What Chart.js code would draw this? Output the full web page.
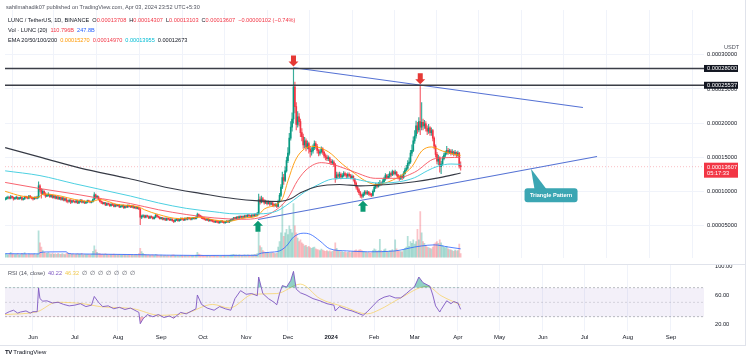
<!DOCTYPE html>
<html>
<head>
<meta charset="utf-8">
<script src="https://cdn.jsdelivr.net/npm/chart.js@4.4.1/dist/chart.umd.min.js"></script>
<style>
body { margin: 0; background: #fff; width: 750px; height: 361px; overflow: hidden; position: relative; font-family: "Liberation Sans", Arial, sans-serif; }
canvas { position: absolute; left: 0; }
#main { top: 0; }
#rsi { top: 255px; }
.t { position: absolute; font-size: 5.6px; line-height: 8px; color: #131722; white-space: nowrap; z-index: 2; }
.t span { margin-left: 3px; }
.r { color: #F23645; }
.sep { position: absolute; background: #e0e3eb; z-index: 1; }
</style>
</head>
<body>
<canvas id="main" width="750" height="264"></canvas>
<canvas id="rsi" width="750" height="106"></canvas>

<div class="sep" style="left:0;top:264px;width:746px;height:1px"></div>
<div class="sep" style="left:745px;top:0;width:1px;height:345px"></div>
<div class="sep" style="left:0;top:345px;width:746px;height:1px"></div>

<div class="t" style="left:6px;top:2.5px;color:#50535e">sahilmahadik07 published on TradingView.com, Apr 03, 2024 23:52 UTC+5:30</div>
<div class="t" style="left:8px;top:15.5px">LUNC / TetherUS, 1D, BINANCE<span>O<b class="r" style="font-weight:normal">0.00013708</b></span><span>H<b class="r" style="font-weight:normal">0.00014307</b></span><span>L<b class="r" style="font-weight:normal">0.00013103</b></span><span>C<b class="r" style="font-weight:normal">0.00013607</b></span><span class="r">−0.00000102 (−0.74%)</span></div>
<div class="t" style="left:8px;top:25.5px">Vol · LUNC (20)<span class="r">110.796B</span><span style="color:#2962FF">247.8B</span></div>
<div class="t" style="left:8px;top:36px">EMA 20/50/100/200<span style="color:#FF9800">0.00015270</span><span style="color:#F23645">0.00014970</span><span style="color:#00BCD4">0.00013955</span><span>0.00012673</span></div>
<div class="t" style="left:724px;top:43px;color:#50535e">USDT</div>
<div class="t" style="left:8px;top:269px;color:#50535e">RSI (14, close)<span style="color:#7E57C2">40.22</span><span style="color:#F2C94C">46.32</span><span>∅</span><span>∅</span><span>∅</span><span>∅</span><span>∅</span><span>∅</span><span>∅</span></div>
<div class="t" style="left:5px;top:348px;font-size:6px;color:#131722"><b style="letter-spacing:-0.5px">TV</b> TradingView</div>

<script>
// Daily candles from 12 May 2023 (day 0) to 3 Apr 2024, prices in 1e-5 USDT
const startDay = Date.UTC(2023, 4, 12);
const priceUnit = 1e-5;
const firstOpen = 8.8;

const closes = [
  8.9,9.0,9.1,9.0,9.2,9.1,8.9,9.0,9.1,8.9,
  9.0,9.1,8.8,8.9,9.2,9.1,9.0,9.3,9.1,9.0,
  8.9,9.1,9.0,9.1,10.8,10.2,9.7,10.0,9.6,9.3,
  9.4,9.5,9.2,9.4,9.1,9.3,9.0,9.2,8.9,9.1,
  8.8,9.0,8.7,8.9,8.6,8.5,8.7,8.4,8.6,8.5,
  8.4,8.6,8.3,8.5,8.7,8.4,8.5,8.3,8.4,8.6,
  8.5,8.4,8.5,8.8,9.5,9.1,9.2,8.8,8.5,8.4,
  8.2,8.3,8.0,8.2,8.1,7.9,8.1,8.0,7.8,8.0,
  7.9,8.0,7.7,7.8,7.9,7.6,7.8,7.7,7.9,7.8,
  7.7,7.8,7.6,7.7,7.5,7.6,7.4,6.2,6.3,6.4,
  6.2,6.4,6.3,6.1,6.3,6.2,6.0,6.2,6.5,6.3,
  6.2,6.0,6.1,5.9,6.0,5.8,6.0,5.9,5.8,5.9,
  5.7,5.6,5.8,5.9,5.7,5.8,6.0,5.9,5.8,6.0,
  5.9,6.1,6.0,5.9,6.0,6.1,6.0,6.2,6.6,6.4,
  6.3,6.1,6.0,5.9,5.8,5.9,5.7,5.8,5.7,5.6,
  5.5,5.6,5.5,5.4,5.5,5.6,5.5,5.4,5.5,5.6,
  5.5,5.7,5.8,5.9,6.1,6.0,6.2,6.1,6.3,6.2,
  6.3,6.2,6.4,6.3,6.5,6.4,6.3,6.5,6.4,6.6,
  6.5,6.7,8.8,8.4,8.9,8.6,8.3,8.5,8.2,8.4,
  8.1,8.3,8.0,7.9,8.1,7.8,8.5,9.4,10.6,12.0,
  11.6,13.0,14.5,15.6,17.8,19.4,20.6,25.3,22.4,19.8,
  20.9,20.2,18.6,18.0,16.8,17.4,16.5,17.0,16.2,15.8,
  15.9,16.4,17.0,16.6,16.0,15.6,15.8,16.2,15.7,15.2,
  15.0,14.8,14.9,14.4,14.2,14.3,13.9,12.0,12.4,12.2,
  12.5,12.1,12.3,12.6,12.4,12.2,12.5,12.3,12.0,12.2,
  11.8,11.2,10.6,10.2,9.8,9.4,9.3,9.6,9.9,9.7,
  9.9,9.6,9.5,9.4,10.0,10.6,10.9,10.7,11.0,11.2,
  11.1,11.4,11.8,12.3,12.0,12.2,12.6,12.4,12.9,12.6,
  12.8,12.4,12.1,11.9,12.2,12.0,12.6,13.1,13.4,14.1,
  14.3,15.6,16.0,17.4,18.1,19.6,19.0,20.2,19.4,20.1,
  19.6,19.9,19.2,18.8,19.3,18.6,18.9,17.8,16.6,15.4,
  14.4,14.9,13.6,14.0,14.8,15.3,15.6,16.0,15.7,15.9,
  15.6,15.8,15.5,15.7,15.3,15.6,13.708,13.607
];
const highs = [
  9.1,9.2,9.3,9.2,9.4,9.3,9.2,9.1,9.3,9.2,
  9.1,9.2,9.2,9.0,9.3,9.3,9.2,9.4,9.4,9.2,
  9.1,9.2,9.2,9.3,11.4,11.0,10.4,10.3,10.1,9.8,
  9.6,9.8,9.6,9.5,9.5,9.4,9.4,9.3,9.3,9.2,
  9.2,9.1,9.1,9.0,9.0,8.7,8.8,8.8,8.7,8.7,
  8.6,8.7,8.7,8.6,8.8,8.8,8.6,8.6,8.5,8.7,
  8.7,8.6,8.6,8.9,9.8,9.6,9.4,9.3,8.9,8.6,
  8.5,8.4,8.4,8.3,8.3,8.2,8.2,8.2,8.1,8.1,
  8.1,8.1,8.1,7.9,8.0,8.0,7.9,7.9,8.0,8.0,
  7.9,7.9,7.9,7.8,7.8,7.7,7.7,7.5,6.5,6.6,
  6.5,6.5,6.5,6.4,6.4,6.4,6.3,6.3,6.6,6.6,
  6.4,6.3,6.2,6.2,6.1,6.1,6.1,6.1,6.0,6.0,
  6.0,5.8,5.9,6.0,6.0,5.9,6.1,6.1,6.0,6.1,
  6.1,6.2,6.2,6.1,6.1,6.2,6.2,6.3,6.8,6.7,
  6.5,6.4,6.2,6.1,6.0,6.0,6.0,5.9,5.9,5.8,
  5.7,5.7,5.7,5.6,5.6,5.7,5.7,5.6,5.6,5.7,
  5.7,5.8,5.9,6.0,6.2,6.2,6.3,6.3,6.4,6.4,
  6.4,6.4,6.5,6.5,6.6,6.6,6.5,6.6,6.6,6.7,
  6.7,6.9,9.6,9.2,9.3,9.1,8.8,8.7,8.6,8.6,
  8.5,8.4,8.4,8.2,8.2,8.2,8.7,9.7,11.0,12.8,
  12.5,13.6,15.0,16.4,18.5,20.2,21.5,28.1,26.0,23.0,
  21.7,21.4,20.6,19.2,18.4,17.9,17.7,17.4,17.2,16.6,
  16.4,16.8,17.4,17.3,16.9,16.2,16.1,16.5,16.4,15.9,
  15.5,15.3,15.2,15.0,14.7,14.6,14.5,14.1,12.8,12.7,
  12.8,12.7,12.6,12.9,12.8,12.6,12.7,12.7,12.5,12.4,
  12.3,11.9,11.4,10.8,10.4,10.0,9.6,9.8,10.1,10.1,
  10.1,10.0,9.8,9.7,10.2,10.9,11.2,11.1,11.3,11.6,
  11.4,11.7,12.1,12.6,12.5,12.5,12.9,12.8,13.1,13.0,
  13.1,12.9,12.5,12.3,12.4,12.4,12.9,13.4,13.8,14.5,
  14.9,16.0,16.8,18.0,18.9,20.3,20.1,20.8,25.5,23.0,
  20.6,20.4,20.2,19.6,19.8,19.5,19.3,19.1,18.0,16.8,
  15.7,15.3,15.1,14.4,15.1,15.6,15.9,16.6,16.3,16.2,
  16.1,16.1,15.9,16.0,15.8,15.9,15.7,14.307
];
const lows = [
  8.7,8.8,8.9,8.9,8.9,9.0,8.7,8.8,8.9,8.8,
  8.8,8.9,8.7,8.7,8.8,9.0,8.9,8.9,9.0,8.9,
  8.7,8.8,8.9,8.9,9.0,9.9,9.0,9.5,9.4,9.1,
  9.2,9.3,9.1,9.1,9.0,9.0,8.9,8.9,8.8,8.8,
  8.7,8.7,8.6,8.6,8.4,8.3,8.4,8.2,8.3,8.4,
  8.3,8.3,8.2,8.2,8.4,8.3,8.3,8.2,8.2,8.3,
  8.4,8.3,8.3,8.4,8.7,8.9,9.0,8.7,8.4,8.2,
  8.1,8.1,7.9,7.9,8.0,7.8,7.8,7.9,7.7,7.7,
  7.8,7.8,7.6,7.6,7.7,7.5,7.5,7.6,7.6,7.7,
  7.6,7.6,7.5,7.5,7.4,7.4,7.3,5.1,6.0,6.2,
  6.1,6.1,6.2,6.0,6.0,6.1,5.9,5.9,6.1,6.2,
  6.1,5.9,5.9,5.8,5.8,5.7,5.7,5.8,5.7,5.7,
  5.6,5.4,5.5,5.7,5.6,5.6,5.7,5.8,5.7,5.7,
  5.8,5.8,5.9,5.8,5.8,5.9,5.9,5.9,6.1,6.3,
  6.2,6.0,5.9,5.8,5.7,5.7,5.6,5.6,5.6,5.5,
  5.4,5.4,5.4,5.3,5.3,5.4,5.4,5.3,5.3,5.4,
  5.4,5.4,5.6,5.7,5.8,5.9,5.9,6.0,6.0,6.1,
  6.1,6.1,6.1,6.2,6.2,6.3,6.2,6.2,6.3,6.3,
  6.4,6.4,6.6,8.1,8.3,8.4,8.1,8.2,8.0,8.1,
  7.9,8.0,7.8,7.7,7.8,7.6,7.7,8.4,9.2,10.4,
  11.0,11.4,12.8,14.2,15.3,17.5,18.8,20.0,21.5,19.0,
  19.4,19.6,18.0,17.4,16.3,16.4,15.9,16.2,15.6,15.0,
  15.3,15.6,16.1,16.2,15.6,15.2,15.3,15.6,15.4,14.9,
  14.6,14.5,14.5,14.1,13.9,14.0,13.6,11.3,11.8,11.9,
  12.0,11.8,11.9,12.1,12.2,11.9,12.0,12.1,11.8,11.8,
  11.5,10.9,10.3,9.9,9.5,9.1,9.0,9.1,9.4,9.5,
  9.5,9.4,9.3,9.2,9.3,9.9,10.4,10.5,10.6,10.8,
  10.9,11.0,11.3,11.6,11.8,11.9,12.0,12.1,12.3,12.4,
  12.4,12.2,11.8,11.6,11.7,11.7,11.9,12.5,13.0,13.2,
  13.8,14.1,15.2,15.8,17.0,17.8,18.5,18.7,18.3,19.0,
  19.0,19.2,18.8,18.3,18.5,18.2,18.2,17.4,16.2,15.0,
  14.0,13.9,12.8,12.6,13.8,14.6,15.0,15.4,15.4,15.5,
  15.3,15.4,15.2,15.3,15.0,15.1,13.4,13.103
];
// volume, billions of LUNC
const volumes = [
  90,110,80,120,150,90,100,85,95,110,
  80,90,120,100,140,95,85,105,90,100,
  90,110,80,100,760,420,300,200,150,130,
  120,140,110,100,130,90,110,95,120,100,
  90,110,100,85,120,130,95,110,90,100,
  85,95,110,90,100,120,80,90,85,95,
  90,80,100,180,330,220,150,120,110,95,
  100,85,110,90,80,95,85,90,100,80,
  85,75,95,80,70,90,75,80,70,85,
  75,70,85,70,90,80,110,260,170,120,
  90,80,70,75,65,70,80,60,90,75,
  65,60,70,55,60,65,55,60,50,60,
  70,80,60,55,60,50,65,55,50,60,
  55,60,50,55,60,55,50,70,150,100,
  80,70,60,55,60,55,65,50,55,60,
  60,55,50,55,45,50,55,60,50,55,
  60,65,70,75,90,70,80,65,75,70,
  65,70,75,60,80,70,65,75,70,90,
  85,110,720,330,280,200,160,150,130,140,
  120,130,150,120,110,130,300,450,700,1500,
  600,700,800,650,900,800,700,1530,900,700,
  550,450,500,420,380,330,350,300,320,280,
  260,280,300,250,230,220,200,240,210,190,
  180,200,170,190,160,180,200,420,260,200,
  180,160,170,150,160,140,150,170,140,160,
  180,200,220,190,210,230,200,170,160,150,
  140,150,130,140,200,250,220,180,200,520,
  200,180,220,250,180,170,200,190,230,180,
  500,250,200,180,170,160,220,260,300,600,
  320,450,400,500,380,450,800,500,1300,700,
  450,400,350,300,280,260,250,300,380,420,
  450,400,500,420,350,300,280,320,250,230,
  220,200,180,210,190,200,380,110.8
];

// indicator lines, [day, value]
const ema20 = [[0,10.0],[12,9.3],[23,9.1],[28,9.6],[40,9.3],[50,8.8],[62,8.5],[68,8.8],[80,8.1],[96,7.7],[100,7.3],[110,6.6],[125,6.0],[140,6.2],[150,5.8],[160,5.6],[172,6.1],[181,6.4],[186,7.4],[195,8.1],[199,8.9],[203,11.5],[208,14.4],[213,15.9],[220,16.6],[232,15.8],[242,14.0],[251,12.6],[258,11.6],[266,11.0],[271,11.1],[285,12.4],[292,13.6],[299,15.9],[306,16.5],[314,15.9],[323,15.4],[327,15.27]];
const ema50 = [[0,11.3],[25,10.4],[50,9.6],[70,8.9],[90,8.2],[110,7.3],[130,6.6],[150,6.1],[170,5.9],[182,6.1],[194,7.2],[203,9.0],[210,11.6],[217,13.3],[227,14.2],[239,13.7],[251,12.8],[266,11.9],[280,11.9],[294,12.8],[309,14.8],[327,14.97]];
const ema100 = [[0,13.0],[25,12.3],[50,11.1],[70,10.2],[90,9.3],[110,8.3],[130,7.5],[150,7.0],[165,6.7],[182,6.7],[195,7.1],[207,8.7],[215,9.9],[224,10.9],[235,11.8],[247,11.9],[258,11.5],[268,11.2],[283,11.4],[294,12.0],[303,13.0],[311,13.7],[320,14.0],[327,13.955]];
const ema200 = [[0,16.4],[27,14.9],[54,13.4],[88,11.9],[115,10.6],[140,9.7],[165,8.9],[182,8.6],[197,8.5],[205,8.9],[212,9.8],[224,10.7],[240,11.0],[255,10.8],[275,11.0],[294,11.4],[312,12.0],[327,12.673]];
const volMA = [[0,110],[24,105],[25,140],[30,160],[44,165],[45,120],[50,105],[92,85],[140,60],[181,65],[182,100],[190,150],[197,190],[202,330],[207,580],[214,690],[219,660],[226,470],[233,250],[245,190],[260,165],[280,190],[294,300],[299,330],[308,360],[318,300],[327,247.8]];
const rsi = [[0,34],[3,37],[6,39],[9,35],[11,36.5],[15,38],[18,35],[20,37],[23,37],[24,69.6],[25,55],[27,51.5],[30,52],[34,49],[38,50],[42,47],[46,45],[50,46],[54,48],[58,44],[62,46],[64,58],[67,50],[70,44],[74,45],[78,41],[82,43],[86,40],[90,42],[94,38],[96,36],[97,20.4],[99,27],[102,33],[106,30],[110,33],[114,29],[118,31],[121,28],[126,36],[130,34],[134,38],[137,41],[138,60],[141,47],[145,42],[150,39],[154,44],[158,41],[162,39],[165,55],[169,66],[173,61],[177,62],[181,59],[182,84.8],[185,62],[189,55],[193,50],[195,46.5],[197,62],[199,73],[202,71],[205,80],[207,92.6],[209,68],[212,63],[216,60],[221,55],[226,52],[231,48],[236,46],[237,38],[240,44],[245,40],[249,38],[253,35],[257,32],[260,37],[264,45],[268,53],[272,57],[276,59],[280,56],[284,56],[288,62],[291,67],[294,72],[297,84.8],[300,77],[303,74],[305,72],[307,60],[309,45],[312,36.5],[313,40],[317,52],[320,48],[322,51],[325,49],[327,40.22]];
const rsiMA = [[0,33],[23,37],[37,50],[56,48],[68,44],[92,41],[111,32],[130,35],[149,47],[161,42],[178,61],[195,62],[212,75],[226,55],[243,44],[260,34],[269,40],[283,55],[303,72],[313,59],[327,46.32]];

// drawings
const levels = [28.0, 25.537];
const lastPrice = 13.607;
const upperTrend = [[207.4, 28.1], [414.8, 22.29]];
const lowerTrend = [[181.5, 5.86], [424.9, 15.1]];
const arrowDays = [207, 298, 181.5, 256.9];
const arrowTips = [28.3, 25.7, 5.7, 8.6];
const arrowDirs = ['down', 'down', 'up', 'up'];
const calloutAnchorDay = 377.5;
const calloutBox = [391.9, 9.43];
const calloutText = 'Triangle Pattern';

// axes
const monthLabels = ['Jun','Jul','Aug','Sep','Oct','Nov','Dec','2024','Feb','Mar','Apr','May','Jun','Jul','Aug','Sep'];
const monthStarts = ['2023-06-01','2023-07-01','2023-08-01','2023-09-01','2023-10-01','2023-11-01','2023-12-01','2024-01-01','2024-02-01','2024-03-01','2024-04-01','2024-05-01','2024-06-01','2024-07-01','2024-08-01','2024-09-01'];
const priceTicks = [5, 10, 15, 20, 25, 30];
const rsiTicks = [20, 60, 100];

const monthDays = monthStarts.map(s => (Date.parse(s) - startDay) / 864e5);
const GREEN = '#089981', RED = '#F23645';
const GRID = '#f0f3fa';
const FONT = '"Liberation Sans", Arial, sans-serif';
const xMin = -0.1, xMax = 501.7;

const opens = closes.map((c, i) => i ? closes[i - 1] : firstOpen);
const isUp = closes.map((c, i) => c >= opens[i]);
const candleColors = isUp.map(u => u ? GREEN : RED);
const wickColors = isUp.map(u => u ? 'rgba(8,153,129,0.8)' : 'rgba(242,54,69,0.8)');
const volColors = isUp.map(u => u ? 'rgba(8,153,129,0.3)' : 'rgba(242,54,69,0.3)');

function pts(arr) {
    return arr.map(p => ({ x: p[0], y: p[1] }));
}

function lineSet(arr, color, width, extra) {
    return Object.assign({
        type: 'line',
        data: pts(arr),
        borderColor: color,
        borderWidth: width,
        pointRadius: 0,
        cubicInterpolationMode: 'monotone',
        order: 3
    }, extra || {});
}

function monthTicks(s) {
    s.ticks = monthDays.map(v => ({ value: v }));
}

function drawArrow(ctx, px, py, dir, color) {
    const s = dir === 'down' ? -1 : 1;
    ctx.fillStyle = color;
    ctx.beginPath();
    ctx.moveTo(px, py);
    ctx.lineTo(px - 5, py + s * 5);
    ctx.lineTo(px - 2.5, py + s * 5);
    ctx.lineTo(px - 2.5, py + s * 11);
    ctx.lineTo(px + 2.5, py + s * 11);
    ctx.lineTo(px + 2.5, py + s * 5);
    ctx.lineTo(px + 5, py + s * 5);
    ctx.closePath();
    ctx.fill();
}

function axisBox(ctx, left, yc, h, bg, lines) {
    ctx.fillStyle = bg;
    ctx.fillRect(left, yc - 3.5, 34, h);
    ctx.fillStyle = '#fff';
    ctx.font = '5.7px ' + FONT;
    ctx.textAlign = 'left';
    ctx.textBaseline = 'middle';
    lines.forEach((t, i) => ctx.fillText(t, left + 3, yc + i * 6.5));
}

// Dibujos sobre el panel de precio
const annot = {
    id: 'annot',
    afterDatasetsDraw(chart) {
        const { ctx, scales: { x, y } } = chart;
        ctx.save();
        arrowDays.forEach((d, i) => {
            drawArrow(ctx, x.getPixelForValue(d), y.getPixelForValue(arrowTips[i]), arrowDirs[i],
                arrowDirs[i] === 'down' ? '#E53935' : '#0B9A73');
        });

        // callout "Triangle Pattern"
        const [a, b] = lowerTrend;
        const anchorPrice = a[1] + (b[1] - a[1]) * (calloutAnchorDay - a[0]) / (b[0] - a[0]);
        const ax = x.getPixelForValue(calloutAnchorDay), ay = y.getPixelForValue(anchorPrice);
        const bx = x.getPixelForValue(calloutBox[0]), by = y.getPixelForValue(calloutBox[1]);
        const w = 53, h = 14;
        ctx.fillStyle = '#3BA6B3';
        ctx.beginPath();
        ctx.moveTo(ax, ay);
        ctx.lineTo(bx - w / 2 + 10, by - h / 2 + 1);
        ctx.lineTo(bx - w / 2 + 22, by - h / 2 + 1);
        ctx.closePath();
        ctx.fill();
        ctx.beginPath();
        ctx.roundRect(bx - w / 2, by - h / 2, w, h, 3);
        ctx.fill();
        ctx.fillStyle = '#fff';
        ctx.font = 'bold 5.6px ' + FONT;
        ctx.textAlign = 'center';
        ctx.textBaseline = 'middle';
        ctx.fillText(calloutText, bx, by + 0.5);
        ctx.restore();
    },
    afterDraw(chart) {
        const { ctx, chartArea, scales: { y } } = chart;
        ctx.save();
        levels.forEach(v => axisBox(ctx, chartArea.right, y.getPixelForValue(v), 7, '#131722', [(v * priceUnit).toFixed(8)]));
        const yl = y.getPixelForValue(lastPrice);
        ctx.fillStyle = RED;
        ctx.fillRect(chartArea.right, yl - 4, 34, 15);
        ctx.fillStyle = '#fff';
        ctx.font = '5.7px ' + FONT;
        ctx.textAlign = 'left';
        ctx.textBaseline = 'middle';
        ctx.fillText((lastPrice * priceUnit).toFixed(8), chartArea.right + 3, yl + 0.5);
        ctx.fillText('05:17:33', chartArea.right + 3, yl + 7);
        ctx.restore();
    }
};

const rsiBand = {
    id: 'rsiBand',
    beforeDatasetsDraw(chart) {
        const { ctx, chartArea: c, scales: { y } } = chart;
        const y70 = y.getPixelForValue(70), y30 = y.getPixelForValue(30), y50 = y.getPixelForValue(50);
        ctx.save();
        ctx.fillStyle = 'rgba(126,87,194,0.09)';
        ctx.fillRect(c.left, y70, c.right - c.left, y30 - y70);
        ctx.lineWidth = 0.7;
        ctx.setLineDash([2, 2]);
        [y70, y50, y30].forEach(v => {
            ctx.strokeStyle = v === y50 ? 'rgba(120,123,134,0.35)' : 'rgba(120,123,134,0.7)';
            ctx.beginPath();
            ctx.moveTo(c.left, v);
            ctx.lineTo(c.right, v);
            ctx.stroke();
        });
        ctx.restore();
    }
};

const days = closes.map((c, i) => i);

new Chart(document.getElementById('main'), {
    type: 'bar',
    data: {
        datasets: [
            {
                data: days.map(i => ({ x: i, y: volumes[i] })),
                yAxisID: 'yv',
                backgroundColor: volColors,
                barThickness: 1.1,
                grouped: false,
                order: 10
            },
            lineSet(volMA, '#2962FF', 0.8, { yAxisID: 'yv', order: 9 }),
            {
                data: days.map(i => ({ x: i, y: [lows[i], highs[i]] })),
                backgroundColor: wickColors,
                barThickness: 0.5,
                grouped: false,
                order: 6
            },
            {
                data: days.map(i => ({ x: i, y: [opens[i], closes[i]] })),
                backgroundColor: candleColors,
                barThickness: 1.0,
                minBarLength: 1,
                grouped: false,
                order: 5
            },
            lineSet(ema200, '#363A45', 1.1),
            lineSet(ema100, '#4DD0E1', 1),
            lineSet(ema50, '#F7525F', 0.9),
            lineSet(ema20, '#FF9800', 0.9),
            lineSet([[xMin, lastPrice], [xMax, lastPrice]], 'rgba(242,54,69,0.45)', 0.7, { borderDash: [1, 2], cubicInterpolationMode: 'default', tension: 0, order: 4 }),
            ...levels.map(v => lineSet([[xMin, v], [xMax, v]], '#3b3e47', 1.4, { cubicInterpolationMode: 'default', tension: 0, order: 1 })),
            lineSet(upperTrend, '#5572D4', 1.1, { cubicInterpolationMode: 'default', tension: 0, order: 1 }),
            lineSet(lowerTrend, '#5572D4', 1.1, { cubicInterpolationMode: 'default', tension: 0, order: 1 })
        ]
    },
    options: {
        responsive: false,
        animation: false,
        layout: { padding: { left: 5, top: 10, right: 0, bottom: 0 } },
        plugins: { legend: { display: false }, tooltip: { enabled: false } },
        scales: {
            x: {
                type: 'linear', min: xMin, max: xMax, offset: false,
                grid: { color: GRID, drawTicks: false },
                border: { display: false },
                ticks: { display: false },
                afterBuildTicks: monthTicks,
                afterFit: s => { s.height = 0; }
            },
            y: {
                position: 'right',
                min: 0.2857, max: 36.571,
                grid: { color: GRID, drawTicks: false },
                border: { display: false },
                ticks: {
                    padding: 3, color: '#131722',
                    font: { size: 5.7, family: FONT },
                    callback: v => (v * priceUnit).toFixed(8)
                },
                afterBuildTicks: s => { s.ticks = priceTicks.map(v => ({ value: v })); },
                afterFit: s => { s.width = 46; }
            },
            yv: { display: false, min: 0, max: 7010 }
        }
    },
    plugins: [annot]
});

new Chart(document.getElementById('rsi'), {
    type: 'line',
    data: {
        datasets: [
            lineSet(rsiMA, 'rgba(247,206,80,0.75)', 0.9, { order: 2 }),
            lineSet(rsi, 'rgba(0,0,0,0)', 0, {
                cubicInterpolationMode: 'default', tension: 0, order: 3,
                fill: { target: { value: 30 }, above: 'rgba(0,0,0,0)', below: 'rgba(242,54,69,0.35)' }
            }),
            lineSet(rsi, '#7E57C2', 0.9, {
                cubicInterpolationMode: 'default', tension: 0, order: 1,
                fill: { target: { value: 70 }, above: 'rgba(8,153,129,0.45)', below: 'rgba(0,0,0,0)' }
            })
        ]
    },
    options: {
        responsive: false,
        animation: false,
        layout: { padding: { left: 5, top: 10, right: 0, bottom: 0 } },
        plugins: { legend: { display: false }, tooltip: { enabled: false } },
        scales: {
            x: {
                type: 'linear', min: xMin, max: xMax, offset: false,
                grid: { color: GRID, drawTicks: false },
                border: { display: false },
                ticks: {
                    padding: 3, color: '#131722', autoSkip: false, maxRotation: 0,
                    font: c => ({ size: 6, family: FONT, weight: monthLabels[c.index] === '2024' ? 'bold' : 'normal' }),
                    callback: (v, i) => monthLabels[i]
                },
                afterBuildTicks: monthTicks,
                afterFit: s => { s.height = 30; }
            },
            y: {
                position: 'right',
                min: 10.34, max: 101.38,
                grid: { display: false },
                border: { display: false },
                ticks: {
                    padding: 3, color: '#131722',
                    font: { size: 5.7, family: FONT },
                    callback: v => v.toFixed(2)
                },
                afterBuildTicks: s => { s.ticks = rsiTicks.map(v => ({ value: v })); },
                afterFit: s => { s.width = 46; }
            }
        }
    },
    plugins: [rsiBand]
});
</script>
</body>
</html>
